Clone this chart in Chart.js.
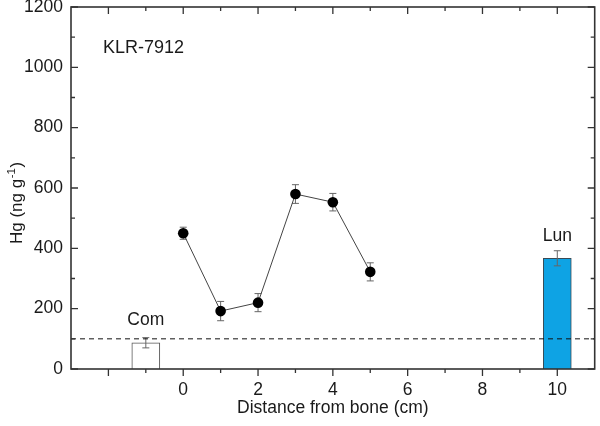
<!DOCTYPE html>
<html><head><meta charset="utf-8">
<script src="https://cdn.jsdelivr.net/npm/chart.js@4.4.1/dist/chart.umd.min.js"></script>
<style>html,body{margin:0;padding:0;background:#fff;} canvas{display:block;}</style>
</head><body>
<canvas id="c" width="600" height="426"></canvas>
<script>
// ---- data ----
const profileX = [0, 1, 2, 3, 4, 5];
const profileHg = [450, 192, 220, 580, 553, 322];
const profileErr = [20, 32, 30, 31, 29, 30];
const barLabels = ['Com', 'Lun'];
const barX = [-1, 10];
const barHg = [87, 367];
const barErr = [17, 25];
const barLabelHg = [162, 440];
const baselineHg = 100;
const xRange = [-3, 11];
const yRange = [0, 1200];
const xTicks = [-2, 0, 2, 4, 6, 8, 10];
const xMinorTicks = [-1, 1, 3, 5, 7, 9];
const yTicks = [0, 200, 400, 600, 800, 1000, 1200];
const yMinorTicks = [100, 300, 500, 700, 900, 1100];
const sampleName = 'KLR-7912';
const xTitle = 'Distance from bone (cm)';

const FONT = '"Liberation Sans", Arial, Helvetica, sans-serif';
const TXT = '#1a1a1a';
const FS = 17.5;

const errorBars = {
  id: 'errorBars',
  drawErr(chart, meta, vals, errs) {
    const ctx = chart.ctx, ys = chart.scales.y;
    ctx.save();
    ctx.strokeStyle = '#666';
    ctx.lineWidth = 1;
    meta.data.forEach((el, i) => {
      const x = el.x;
      const yt = ys.getPixelForValue(vals[i] + errs[i]);
      const yb = ys.getPixelForValue(vals[i] - errs[i]);
      ctx.beginPath();
      ctx.moveTo(x, yt); ctx.lineTo(x, yb);
      ctx.moveTo(x - 3.5, yt); ctx.lineTo(x + 3.5, yt);
      ctx.moveTo(x - 3.5, yb); ctx.lineTo(x + 3.5, yb);
      ctx.stroke();
    });
    ctx.restore();
  },
  beforeDatasetDraw(chart, args) {
    if (args.index === 2) this.drawErr(chart, args.meta, profileHg, profileErr);
  },
  afterDatasetDraw(chart, args) {
    if (args.index === 0) this.drawErr(chart, args.meta, barHg, barErr);
  }
};

const frame = {
  id: 'frame',
  afterDraw(chart) {
    const ctx = chart.ctx, a = chart.chartArea, xs = chart.scales.x, ys = chart.scales.y;
    ctx.save();
    ctx.strokeStyle = '#333';
    ctx.lineWidth = 1.6;
    ctx.strokeRect(a.left, a.top, a.right - a.left, a.bottom - a.top);
    ctx.lineWidth = 1.3;
    ctx.beginPath();
    const tickX = (v, len) => {
      const p = xs.getPixelForValue(v);
      ctx.moveTo(p, a.bottom); ctx.lineTo(p, a.bottom + len);
      ctx.moveTo(p, a.top); ctx.lineTo(p, a.top + len);
    };
    const tickY = (v, len) => {
      const p = ys.getPixelForValue(v);
      ctx.moveTo(a.left, p); ctx.lineTo(a.left + len, p);
      ctx.moveTo(a.right, p); ctx.lineTo(a.right - len, p);
    };
    xTicks.forEach(v => tickX(v, 7));
    xMinorTicks.forEach(v => tickX(v, 4));
    yTicks.forEach(v => tickY(v, 7));
    yMinorTicks.forEach(v => tickY(v, 4));
    ctx.stroke();

    // texts
    ctx.fillStyle = TXT;
    ctx.font = '18px ' + FONT;
    ctx.textAlign = 'left';
    ctx.textBaseline = 'alphabetic';
    ctx.fillText(sampleName, 103, 53);

    ctx.font = FS + 'px ' + FONT;
    ctx.textAlign = 'center';
    ctx.textBaseline = 'middle';
    barLabels.forEach((t, i) => {
      ctx.fillText(t, xs.getPixelForValue(barX[i]), ys.getPixelForValue(barLabelHg[i]));
    });

    // y title with superscript
    const main = 'Hg (ng g', sup = '-1', end = ')';
    const f1 = '17px ' + FONT, f2 = '11.5px ' + FONT;
    ctx.font = f1;
    const w1 = ctx.measureText(main).width;
    const w3 = ctx.measureText(end).width;
    ctx.font = f2;
    const w2 = ctx.measureText(sup).width;
    const total = w1 + w2 + w3 + 1;
    ctx.translate(22, 203);
    ctx.rotate(-Math.PI / 2);
    ctx.textAlign = 'left';
    ctx.textBaseline = 'alphabetic';
    const x0 = -total / 2;
    ctx.font = f1;
    ctx.fillText(main, x0, 0);
    ctx.font = f2;
    ctx.fillText(sup, x0 + w1 + 0.5, -7.5);
    ctx.font = f1;
    ctx.fillText(end, x0 + w1 + w2 + 1, 0);
    ctx.restore();
  }
};

new Chart(document.getElementById('c'), {
  type: 'bar',
  data: {
    datasets: [
      {
        type: 'bar',
        data: barX.map((x, i) => ({ x: x, y: barHg[i] })),
        backgroundColor: ['#ffffff', '#0ea3e4'],
        borderColor: ['#555555', '#3a4a55'],
        borderWidth: 1,
        barThickness: 28,
        order: 3
      },
      {
        type: 'line',
        data: [{ x: xRange[0], y: baselineHg }, { x: xRange[1], y: baselineHg }],
        borderColor: '#111',
        borderWidth: 1,
        borderDash: [5, 4],
        pointRadius: 0,
        order: 2
      },
      {
        type: 'line',
        data: profileX.map((x, i) => ({ x: x, y: profileHg[i] })),
        borderColor: '#444',
        borderWidth: 1,
        tension: 0,
        pointRadius: 5.3,
        pointBorderWidth: 0,
        pointBackgroundColor: '#000',
        pointBorderColor: '#000',
        order: 1
      }
    ]
  },
  options: {
    responsive: false,
    animation: false,
    devicePixelRatio: 1,
    events: [],
    layout: { padding: { top: 7, right: 2, left: 0, bottom: 0 } },
    plugins: { legend: { display: false }, tooltip: { enabled: false } },
    scales: {
      x: {
        type: 'linear',
        min: xRange[0], max: xRange[1],
        offset: false,
        grid: { display: false, drawTicks: false },
        border: { display: false },
        afterBuildTicks: s => { s.ticks = xTicks.map(v => ({ value: v })); },
        afterFit: s => { s.height = 57; s.paddingLeft = 0; s.paddingRight = 0; },
        ticks: {
          padding: 11,
          color: TXT,
          font: { family: FONT, size: FS },
          maxRotation: 0,
          autoSkip: false,
          callback: v => (v < 0 ? '' : String(v))
        },
        title: {
          display: true,
          text: xTitle,
          color: TXT,
          font: { family: FONT, size: FS },
          padding: { top: 0, bottom: 7 }
        }
      },
      y: {
        type: 'linear',
        min: yRange[0], max: yRange[1],
        grid: { display: false, drawTicks: false },
        border: { display: false },
        afterBuildTicks: s => { s.ticks = yTicks.map(v => ({ value: v })); },
        afterFit: s => { s.width = 71; s.paddingTop = 0; s.paddingBottom = 0; },
        ticks: {
          padding: 8,
          color: TXT,
          font: { family: FONT, size: FS },
          autoSkip: false,
          callback: v => String(v)
        }
      }
    }
  },
  plugins: [errorBars, frame]
});
</script>
</body></html>
